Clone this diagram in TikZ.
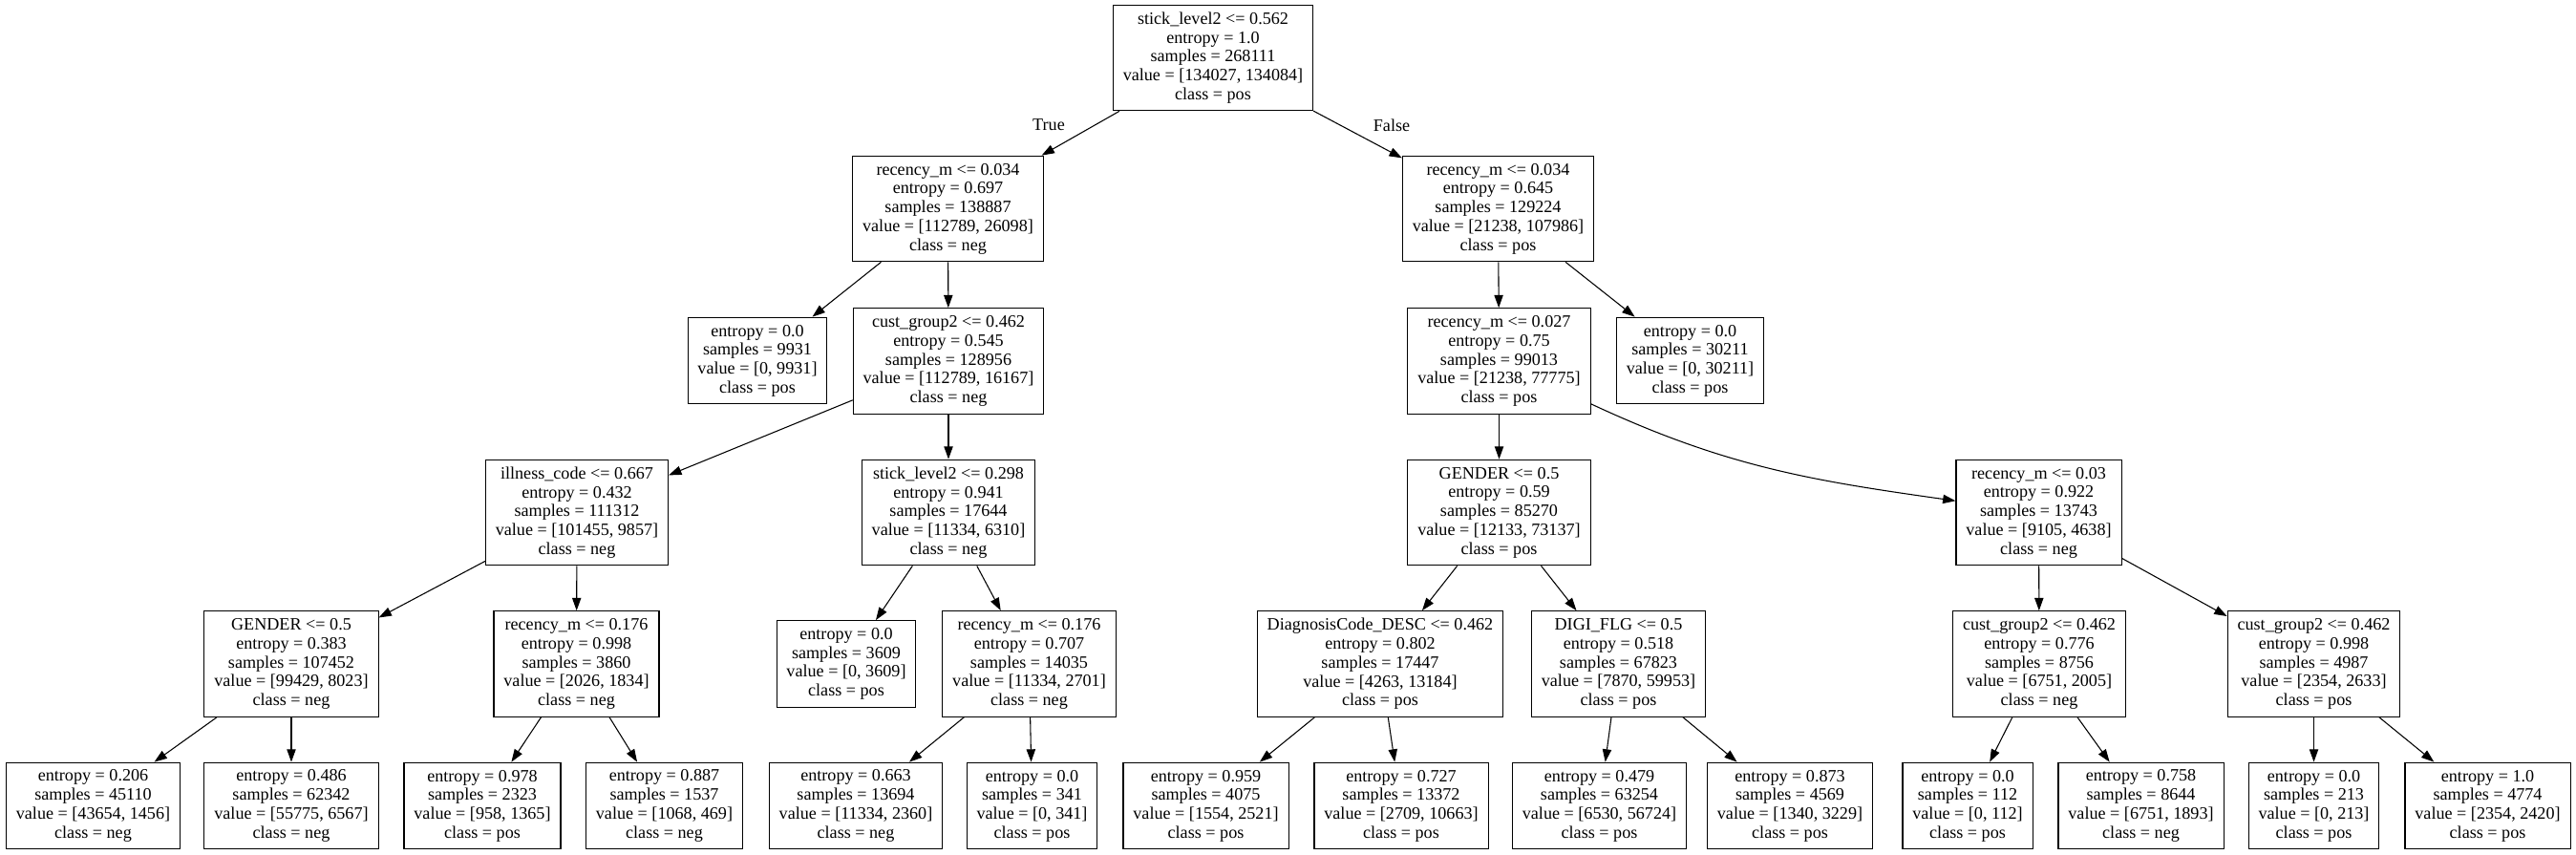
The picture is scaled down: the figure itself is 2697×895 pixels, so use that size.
\documentclass[tikz,border=0pt]{standalone}
\usepackage{fontspec}
\setmainfont{Liberation Serif}
\usetikzlibrary{arrows.meta}
\begin{document}
\begin{tikzpicture}[x=0.75pt,y=-0.75pt,
        font=\fontsize{13.6}{14.8}\selectfont,
        treebox/.style={draw,line width=0.8pt,align=center,inner xsep=7.8pt,inner ysep=2pt},
        splitbox/.style={treebox,minimum height=83pt},
        leafbox/.style={treebox,minimum height=68pt},
        branch/.style={line width=0.8pt,-{Triangle[length=10pt,width=7pt]}}]
        \useasboundingbox (0,0) rectangle (2697,895);

        \node[splitbox] (root) at (1270,60.5) {stick\_level2 <= 0.562\\entropy = 1.0\\samples = 268111\\value = [134027, 134084]\\class = pos};

        \node[splitbox] (rl) at (992.5,218.5) {recency\_m <= 0.034\\entropy = 0.697\\samples = 138887\\value = [112789, 26098]\\class = neg};
        \node[splitbox] (rr) at (1568.5,218.5) {recency\_m <= 0.034\\entropy = 0.645\\samples = 129224\\value = [21238, 107986]\\class = pos};

        \node[leafbox] (leafa) at (793,377.5) {entropy = 0.0\\samples = 9931\\value = [0, 9931]\\class = pos};
        \node[splitbox] (cga) at (993,378) {cust\_group2 <= 0.462\\entropy = 0.545\\samples = 128956\\value = [112789, 16167]\\class = neg};
        \node[splitbox] (rc) at (1569.5,378) {recency\_m <= 0.027\\entropy = 0.75\\samples = 99013\\value = [21238, 77775]\\class = pos};
        \node[leafbox] (leafb) at (1769.5,377.5) {entropy = 0.0\\samples = 30211\\value = [0, 30211]\\class = pos};

        \node[splitbox] (ill) at (604,536.5) {illness\_code <= 0.667\\entropy = 0.432\\samples = 111312\\value = [101455, 9857]\\class = neg};
        \node[splitbox] (stk) at (993,536.5) {stick\_level2 <= 0.298\\entropy = 0.941\\samples = 17644\\value = [11334, 6310]\\class = neg};
        \node[splitbox] (genb) at (1569.5,536.5) {GENDER <= 0.5\\entropy = 0.59\\samples = 85270\\value = [12133, 73137]\\class = pos};
        \node[splitbox] (rd) at (2134.5,536.5) {recency\_m <= 0.03\\entropy = 0.922\\samples = 13743\\value = [9105, 4638]\\class = neg};

        \node[splitbox] (gena) at (305,695) {GENDER <= 0.5\\entropy = 0.383\\samples = 107452\\value = [99429, 8023]\\class = neg};
        \node[splitbox] (re) at (603.5,695) {recency\_m <= 0.176\\entropy = 0.998\\samples = 3860\\value = [2026, 1834]\\class = neg};
        \node[leafbox] (leafc) at (886,695) {entropy = 0.0\\samples = 3609\\value = [0, 3609]\\class = pos};
        \node[splitbox] (rf) at (1077.5,695) {recency\_m <= 0.176\\entropy = 0.707\\samples = 14035\\value = [11334, 2701]\\class = neg};
        \node[splitbox] (diag) at (1445,695) {DiagnosisCode\_DESC <= 0.462\\entropy = 0.802\\samples = 17447\\value = [4263, 13184]\\class = pos};
        \node[splitbox] (digi) at (1694.5,695) {DIGI\_FLG <= 0.5\\entropy = 0.518\\samples = 67823\\value = [7870, 59953]\\class = pos};
        \node[splitbox] (cgb) at (2135,695) {cust\_group2 <= 0.462\\entropy = 0.776\\samples = 8756\\value = [6751, 2005]\\class = neg};
        \node[splitbox] (cgc) at (2422.5,695) {cust\_group2 <= 0.462\\entropy = 0.998\\samples = 4987\\value = [2354, 2633]\\class = pos};

        \node[leafbox] (la) at (97.5,843.5) {entropy = 0.206\\samples = 45110\\value = [43654, 1456]\\class = neg};
        \node[leafbox] (lb) at (305,843.5) {entropy = 0.486\\samples = 62342\\value = [55775, 6567]\\class = neg};
        \node[leafbox] (lc) at (505,843.5) {entropy = 0.978\\samples = 2323\\value = [958, 1365]\\class = pos};
        \node[leafbox] (ld) at (695.5,843.5) {entropy = 0.887\\samples = 1537\\value = [1068, 469]\\class = neg};
        \node[leafbox] (le) at (896,843.5) {entropy = 0.663\\samples = 13694\\value = [11334, 2360]\\class = neg};
        \node[leafbox] (lf) at (1080.5,843.5) {entropy = 0.0\\samples = 341\\value = [0, 341]\\class = pos};
        \node[leafbox] (lg) at (1262.5,843.5) {entropy = 0.959\\samples = 4075\\value = [1554, 2521]\\class = pos};
        \node[leafbox] (lh) at (1467,843.5) {entropy = 0.727\\samples = 13372\\value = [2709, 10663]\\class = pos};
        \node[leafbox] (li) at (1674.5,843.5) {entropy = 0.479\\samples = 63254\\value = [6530, 56724]\\class = pos};
        \node[leafbox] (lj) at (1874,843.5) {entropy = 0.873\\samples = 4569\\value = [1340, 3229]\\class = pos};
        \node[leafbox] (lk) at (2060,843.5) {entropy = 0.0\\samples = 112\\value = [0, 112]\\class = pos};
        \node[leafbox] (ll) at (2241.5,843.5) {entropy = 0.758\\samples = 8644\\value = [6751, 1893]\\class = neg};
        \node[leafbox] (lm) at (2422.5,843.5) {entropy = 0.0\\samples = 213\\value = [0, 213]\\class = pos};
        \node[leafbox] (ln) at (2604.5,843.5) {entropy = 1.0\\samples = 4774\\value = [2354, 2420]\\class = pos};

        \node (lbltrue) at (1098,131) {True};
        \node (lblfalse) at (1457,131) {False};

        \draw[branch] (root) -- (rl);
        \draw[branch] (root) -- (rr);
        \draw[branch] (rl) -- (leafa);
        \draw[branch] (rl) -- (cga);
        \draw[branch] (rr) -- (rc);
        \draw[branch] (rr) -- (leafb);
        \draw[branch] (cga) -- (ill);
        \draw[branch] (cga) -- (stk);
        \draw[branch] (rc) -- (genb);
        \draw[branch] (rc) to[out=-25,in=172] (rd);
        \draw[branch] (ill) -- (gena);
        \draw[branch] (ill) -- (re);
        \draw[branch] (stk) -- (leafc);
        \draw[branch] (stk) -- (rf);
        \draw[branch] (genb) -- (diag);
        \draw[branch] (genb) -- (digi);
        \draw[branch] (rd) -- (cgb);
        \draw[branch] (rd) -- (cgc);
        \draw[branch] (gena) -- (la);
        \draw[branch] (gena) -- (lb);
        \draw[branch] (re) -- (lc);
        \draw[branch] (re) -- (ld);
        \draw[branch] (rf) -- (le);
        \draw[branch] (rf) -- (lf);
        \draw[branch] (diag) -- (lg);
        \draw[branch] (diag) -- (lh);
        \draw[branch] (digi) -- (li);
        \draw[branch] (digi) -- (lj);
        \draw[branch] (cgb) -- (lk);
        \draw[branch] (cgb) -- (ll);
        \draw[branch] (cgc) -- (lm);
        \draw[branch] (cgc) -- (ln);
    \end{tikzpicture}
\end{document}
